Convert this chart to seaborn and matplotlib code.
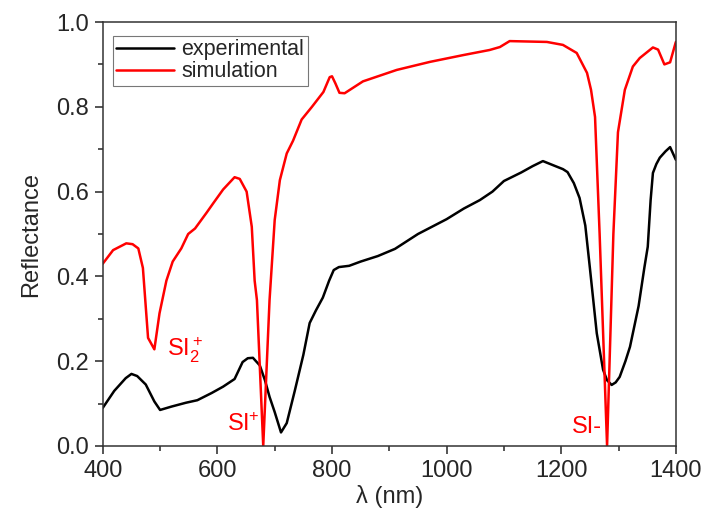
import numpy as np
import pandas as pd
import matplotlib
matplotlib.use('Agg')
import matplotlib.pyplot as plt
import seaborn as sns
from matplotlib.ticker import MultipleLocator

# experimental reflectance (black)
exp_nm = [400, 420, 440, 450, 460, 475, 490, 500, 520, 545, 565, 590, 610, 630,
          644, 653, 662, 674, 683, 691, 700, 711, 721, 735, 750, 761, 772, 784,
          795, 803, 812, 830, 850, 880, 910, 950, 1000, 1030, 1058, 1080, 1100,
          1130, 1150, 1168, 1190, 1203, 1211, 1222, 1232, 1242, 1250, 1262, 1273,
          1280, 1288, 1295, 1302, 1312, 1320, 1335, 1345, 1351, 1356, 1360, 1366,
          1372, 1382, 1390, 1400]
exp_r = [0.09, 0.13, 0.16, 0.17, 0.165, 0.145, 0.105, 0.085, 0.093, 0.102, 0.108,
         0.125, 0.14, 0.158, 0.198, 0.207, 0.208, 0.19, 0.155, 0.116, 0.08, 0.032,
         0.054, 0.13, 0.215, 0.29, 0.32, 0.35, 0.39, 0.415, 0.422, 0.425, 0.435,
         0.448, 0.465, 0.5, 0.535, 0.56, 0.58, 0.6, 0.625, 0.645, 0.66, 0.672,
         0.66, 0.653, 0.646, 0.62, 0.585, 0.52, 0.42, 0.266, 0.18, 0.155, 0.144,
         0.15, 0.163, 0.2, 0.234, 0.33, 0.42, 0.47, 0.58, 0.644, 0.665, 0.68,
         0.695, 0.705, 0.675]

# simulated reflectance (red)
sim_nm = [400, 418, 441, 452, 462, 470, 479, 490, 499, 511, 522, 537, 549, 561,
          581, 593, 610, 630, 639, 651, 660, 665, 669, 680, 691, 700, 709, 721,
          732, 747, 765, 785, 796, 800, 806, 813, 822, 854, 913, 971, 1029, 1075,
          1093, 1110, 1175, 1203, 1227, 1245, 1252, 1259, 1267, 1280, 1291, 1299,
          1311, 1325, 1337, 1360, 1369, 1380, 1390, 1400]
sim_r = [0.43, 0.462, 0.478, 0.476, 0.466, 0.42, 0.255, 0.228, 0.313, 0.39, 0.435,
         0.466, 0.5, 0.513, 0.55, 0.573, 0.605, 0.634, 0.63, 0.6, 0.517, 0.39,
         0.344, 0.0, 0.344, 0.533, 0.627, 0.69, 0.72, 0.77, 0.8, 0.835, 0.87,
         0.872, 0.855, 0.833, 0.832, 0.86, 0.887, 0.906, 0.922, 0.934, 0.941,
         0.955, 0.953, 0.946, 0.927, 0.88, 0.84, 0.776, 0.5, 0.0, 0.5, 0.74,
         0.84, 0.895, 0.915, 0.94, 0.935, 0.9, 0.905, 0.953]

# peak labels
peak_labels = [r'$\mathregular{SI_2^+}$', r'$\mathregular{SI\!^+}$', 'SI-']
peak_x = [512, 616, 1218]
peak_y = [0.21, 0.035, 0.03]

sns.set_style('ticks')
plt.rcParams['font.family'] = ['Liberation Sans', 'DejaVu Sans']
plt.rcParams['mathtext.default'] = 'regular'

df = pd.concat([
    pd.DataFrame({'nm': exp_nm, 'R': exp_r, 'series': 'experimental'}),
    pd.DataFrame({'nm': sim_nm, 'R': sim_r, 'series': 'simulation'}),
], ignore_index=True)

fig = plt.figure(figsize=(7.04, 5.18), dpi=100)
ax = fig.add_axes([0.146, 0.139, 0.814, 0.8185])
sns.lineplot(data=df, x='nm', y='R', hue='series', sort=False,
             palette={'experimental': 'black', 'simulation': '#ff0000'},
             linewidth=1.8, ax=ax)

ax.set_xlim(400, 1400)
ax.set_ylim(0, 1.0)
ax.xaxis.set_major_locator(MultipleLocator(200))
ax.xaxis.set_minor_locator(MultipleLocator(100))
ax.yaxis.set_major_locator(MultipleLocator(0.2))
ax.yaxis.set_minor_locator(MultipleLocator(0.1))
ax.yaxis.set_major_formatter(matplotlib.ticker.FormatStrFormatter('%.1f'))
ax.tick_params(which='major', length=6, width=1.1, labelsize=17, direction='out', pad=4)
ax.tick_params(which='minor', length=3.5, width=1.1, direction='out')
for s in ax.spines.values():
    s.set_linewidth(1.1)
    s.set_color('#333333')

ax.set_xlabel('λ (nm)', fontsize=17, labelpad=2)
ax.set_ylabel('Reflectance', fontsize=17, labelpad=10)

for lab, x, y in zip(peak_labels, peak_x, peak_y):
    ax.text(x, y, lab, color='#ff0000', fontsize=17, ha='left', va='baseline')

leg = ax.legend(loc='upper left', fontsize=15.5, frameon=True, fancybox=False,
                edgecolor='#555555', handlelength=2.7, handletextpad=0.35,
                borderpad=0.15, labelspacing=0.05, borderaxespad=0,
                bbox_to_anchor=(0.017, 0.967))
leg.get_frame().set_linewidth(0.8)

fig.savefig('out.png', dpi=100)
